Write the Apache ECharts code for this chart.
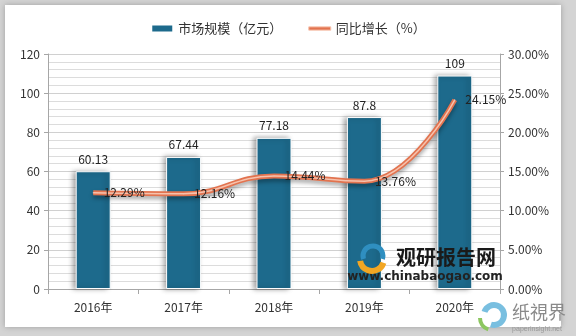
<!DOCTYPE html>
<html>
<head>
<meta charset="utf-8">
<script src="https://cdn.jsdelivr.net/npm/echarts@6/dist/echarts.min.js"></script>
<style>
  html, body { margin: 0; padding: 0; background: #d4d4d4; }
  #chart { width: 576px; height: 336px; }
</style>
</head>
<body>
<div id="chart"></div>
<script>
// Years on the category axis
var years = ['2016年', '2017年', '2018年', '2019年', '2020年'];
// Market size, 100 million yuan
var marketSize = [60.13, 67.44, 77.18, 87.8, 109];
// Year-on-year growth, percent
var growth = [12.29, 12.16, 14.44, 13.76, 24.15];

var FONT = '"Noto Sans CJK SC", "Microsoft YaHei", sans-serif';
var chart = echarts.init(document.getElementById('chart'));

chart.setOption({
  animation: false,
  textStyle: { fontFamily: FONT },
  graphic: [
    {
      type: 'rect', z: -10,
      shape: { x: 5, y: 5, width: 556, height: 322 },
      style: { fill: '#ffffff', shadowBlur: 6, shadowColor: 'rgba(0,0,0,0.25)' }
    },
    // chinabaogao mark
    {
      type: 'arc', z: 20,
      shape: { cx: 373, cy: 256, r: 10, startAngle: Math.PI * 0.9, endAngle: Math.PI * 2.1 },
      style: { stroke: '#2f8fc0', lineWidth: 5, fill: 'none' }
    },
    {
      type: 'arc', z: 21,
      shape: { cx: 372, cy: 259, r: 12, startAngle: Math.PI * 0.1, endAngle: Math.PI * 0.95 },
      style: { stroke: '#f2a623', lineWidth: 6, fill: 'none' }
    },
    {
      type: 'text', z: 20,
      style: { x: 396, y: 257, text: '观研报告网', font: 'bold 20px ' + FONT, fill: '#1a1a1a', textVerticalAlign: 'middle' }
    },
    {
      type: 'text', z: 20,
      style: { x: 425, y: 277, text: 'www.chinabaogao.com', font: 'bold 12px "DejaVu Sans", sans-serif', fill: '#222', textAlign: 'center', textVerticalAlign: 'middle' }
    },
    // paperinsight mark
    {
      type: 'arc', z: 20,
      shape: { cx: 494, cy: 315, r: 10, startAngle: Math.PI * 1.1, endAngle: Math.PI * 2.6 },
      style: { stroke: '#79bfe0', lineWidth: 6, fill: 'none' }
    },
    {
      type: 'arc', z: 20,
      shape: { cx: 492, cy: 318, r: 12, startAngle: Math.PI * 0.6, endAngle: Math.PI * 1.0 },
      style: { stroke: '#8cc660', lineWidth: 4, fill: 'none' }
    },
    {
      type: 'text', z: 20,
      style: { x: 512, y: 312, text: '纸視界', font: '18px ' + FONT, fill: '#8a8a8a', textVerticalAlign: 'middle' }
    },
    {
      type: 'text', z: 20,
      style: { x: 537, y: 329, text: 'paperinsight.net', font: '7px sans-serif', fill: '#999', textAlign: 'center', textVerticalAlign: 'middle' }
    }
  ],
  legend: {
    top: 17,
    left: 'center',
    itemGap: 26,
    itemWidth: 22,
    itemHeight: 8,
    textStyle: { fontSize: 13, color: '#333', fontFamily: FONT },
    data: [
      { name: '市场规模（亿元）', icon: 'rect' },
      { name: '同比增长（%）', icon: 'path://M0,0 L40,0 L40,6 L0,6 Z', itemStyle: { color: '#e2734f', borderColor: '#f6c2ad', borderWidth: 1 } }
    ]
  },
  grid: { left: 48, right: 76, top: 54, bottom: 47 },
  xAxis: {
    type: 'category',
    data: years,
    axisLine: { lineStyle: { color: '#a6a6a6' } },
    axisTick: { show: true, alignWithLabel: false, length: 5, lineStyle: { color: '#a6a6a6' } },
    axisLabel: { color: '#333', fontSize: 12, margin: 12 }
  },
  yAxis: [
    {
      type: 'value', min: 0, max: 120, interval: 20,
      axisLine: { show: true, lineStyle: { color: '#a6a6a6' } },
      axisTick: { show: true, length: 4, lineStyle: { color: '#a6a6a6' } },
      axisLabel: { color: '#333', fontSize: 12, margin: 8 },
      splitLine: { lineStyle: { color: '#d0d0d0' } },
      minorTick: { show: false, splitNumber: 5 },
      minorSplitLine: { show: true, lineStyle: { color: '#dcdcdc' } }
    },
    {
      type: 'value', min: 0, max: 30, interval: 5,
      axisLine: { show: true, lineStyle: { color: '#a6a6a6' } },
      axisTick: { show: true, length: 4, lineStyle: { color: '#a6a6a6' } },
      axisLabel: { color: '#333', fontSize: 12, margin: 8, formatter: function (v) { return v.toFixed(2) + '%'; } },
      splitLine: { show: false }
    }
  ],
  series: [
    {
      name: '市场规模（亿元）',
      type: 'bar',
      data: marketSize,
      barWidth: 35,
      itemStyle: {
        color: '#1d6a8c',
        borderColor: '#ffffff',
        borderWidth: 1,
        shadowBlur: 5,
        shadowOffsetX: -3,
        shadowOffsetY: 0,
        shadowColor: 'rgba(0,0,0,0.35)'
      },
      label: { show: true, position: 'top', distance: 6, color: '#222', fontSize: 12 }
    },
    {
      name: '同比增长（%）',
      type: 'line',
      yAxisIndex: 1,
      data: growth,
      smooth: 0.45,
      symbol: 'none',
      itemStyle: { color: '#e2734f' },
      lineStyle: {
        width: 5, color: '#e2734f',
        shadowBlur: 4, shadowOffsetY: 3, shadowColor: 'rgba(0,0,0,0.35)'
      },
      z: 5
    },
    {
      // lighter inner stroke for the double-line effect, carrying the value labels
      name: 'growth-inner',
      type: 'line',
      yAxisIndex: 1,
      data: growth,
      smooth: 0.45,
      symbol: 'circle',
      symbolSize: 1,
      showSymbol: true,
      silent: true,
      itemStyle: { color: '#f6c2ad' },
      lineStyle: { width: 1.5, color: '#f6c2ad' },
      label: {
        show: true, position: 'right', distance: 10, color: '#222', fontSize: 12,
        formatter: function (p) { return p.value.toFixed(2) + '%'; }
      },
      labelLayout: { hideOverlap: false },
      z: 6
    }
  ]
});
</script>
</body>
</html>
